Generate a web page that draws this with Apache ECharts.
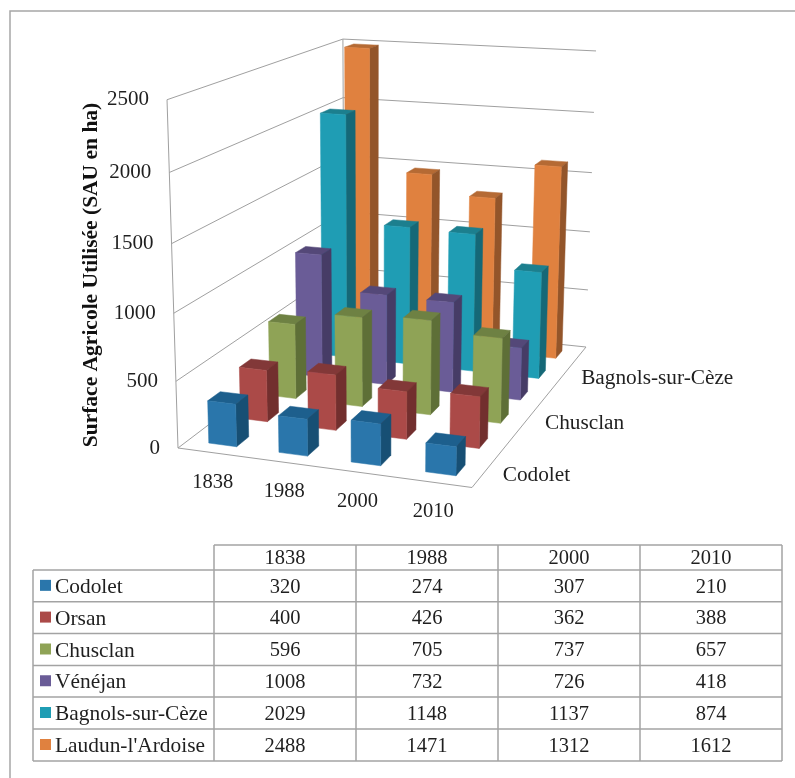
<!DOCTYPE html>
<html><head><meta charset="utf-8">
<style>html,body{margin:0;padding:0;background:#fff}#c{width:795px;height:778px}</style>
<script src="https://cdn.jsdelivr.net/npm/echarts@6/dist/echarts.min.js"></script>
</head><body><div id="c"></div>
<script>
const categories = ['1838','1988','2000','2010'];
const seriesNames = ['Codolet','Orsan','Chusclan','Vénéjan','Bagnols-sur-Cèze',"Laudun-l'Ardoise"];
const codolet = [320,274,307,210];
const orsan = [400,426,362,388];
const chusclan = [596,705,737,657];
const venejan = [1008,732,726,418];
const bagnols = [2029,1148,1137,874];
const laudun = [2488,1471,1312,1612];
const valueTicks = [0,500,1000,1500,2000,2500];
const depthLabels = {0:'Codolet',2:'Chusclan',4:'Bagnols-sur-Cèze'};
const allValues = [codolet,orsan,chusclan,venejan,bagnols,laudun];
const frontColors = ['#2a76ab','#ab4a48','#8fa356','#6a5c97','#1f9db4','#e0813f'];
const sideColors = ['#174f74','#722f2e','#5e6f37','#463c66','#156877','#93552a'];
const topColors = ['#1d5f8d','#823838','#6e8143','#544878','#1c7f8e','#b56a34'];

// Projection of the chart box: u along years, v along depth, z height (all 0..1)
const Q = [[178,448],[472,487.5],[586,347],[344.2,321.8]];
const VP = [373,6634], iz = -0.0533;
const H = (function(){
  const [x0,y0]=Q[0],[x1,y1]=Q[1],[x2,y2]=Q[2],[x3,y3]=Q[3];
  const dx1=x1-x2,dx2=x3-x2,dx3=x0-x1+x2-x3,dy1=y1-y2,dy2=y3-y2,dy3=y0-y1+y2-y3;
  const den=dx1*dy2-dx2*dy1;
  const g=(dx3*dy2-dx2*dy3)/den,h=(dx1*dy3-dx3*dy1)/den;
  return {a:x1-x0+g*x1,b:x3-x0+h*x3,c:x0,d:y1-y0+g*y1,e:y3-y0+h*y3,f:y0,g,h};
})();
function P(u,v,z){
  const w=H.g*u+H.h*v+iz*z+1;
  return [(H.a*u+H.b*v+VP[0]*iz*z+H.c)/w,(H.d*u+H.e*v+VP[1]*iz*z+H.f)/w];
}
const GRID={left:20,top:20,width:700,height:700};
const BAR_U=0.2/4, BAR_V=0.032;

function renderBar(sIdx){
  return function(params,api){
    const pt=api.coord([api.value(0),api.value(1)]);
    const u=(pt[0]-GRID.left)/GRID.width;
    const z=(GRID.top+GRID.height-pt[1])/GRID.height;
    const v=(sIdx+0.49)/6;
    const u0=u-BAR_U,u1=u+BAR_U,v0=v-BAR_V,v1=v+BAR_V;
    const poly=(pts,color)=>({type:'polygon',shape:{points:pts},style:{fill:color,stroke:color,lineWidth:0.5}});
    return {type:'group',children:[
      poly([P(u0,v0,z),P(u1,v0,z),P(u1,v1,z),P(u0,v1,z)],topColors[sIdx]),
      poly([P(u1,v0,0),P(u1,v1,0),P(u1,v1,z),P(u1,v0,z)],sideColors[sIdx]),
      poly([P(u0,v0,0),P(u1,v0,0),P(u1,v0,z),P(u0,v0,z)],frontColors[sIdx])
    ]};
  };
}

const gridColor='#a0a0a0', textColor='#1f1f1f', FONT='"Liberation Serif","Times New Roman",serif';
function boxFrame(){
  const lines=[];
  valueTicks.forEach(t=>{
    const z=t/2500;
    lines.push([P(0,0,z),P(0,1,z)],[P(0,1,z),P(1,1,z)]);
  });
  lines.push([P(0,0,0),P(0,0,1)],[P(0,1,0),P(0,1,1)],[P(0,0,0),P(1,0,0)],[P(1,0,0),P(1,1,0)]);
  return lines;
}
const graphics=[];
graphics.push({type:'polyline',shape:{points:[[10,778],[10,11],[795,11]]},style:{fill:'none',stroke:'#a6a6a6',lineWidth:1.5},z:-1});
boxFrame().forEach(l=>graphics.push({type:'line',shape:{x1:l[0][0],y1:l[0][1],x2:l[1][0],y2:l[1][1]},style:{stroke:gridColor,lineWidth:1},z:0,silent:true}));
function txt(x,y,s,align,size){return {type:'text',x,y,style:{text:s,font:(size||20.5)+'px '+FONT,fill:textColor,align:align||'center',verticalAlign:'middle'},z:5};}
valueTicks.forEach(t=>{const p=P(0,0,t/2500);graphics.push(txt(p[0]-18,p[1],String(t),'right',21));});
categories.forEach((c,i)=>{const p=P((i+0.5)/4,0,0);graphics.push(txt(p[0],p[1]+29.5,c,'center',20.5));});
Object.keys(depthLabels).forEach(k=>{const i=+k;const p=P(1,(i+0.5)/6,0);graphics.push(txt(p[0]+19,p[1]+2,depthLabels[k],'left',21.3));});
graphics.push({type:'text',x:91,y:275,rotation:Math.PI/2,style:{text:'Surface Agricole Utilisée (SAU en ha)',font:'bold 21.5px '+FONT,fill:'#111',align:'center',verticalAlign:'middle'},z:5});

// data table
const colX=[214,356,498,640,782], rowY=[545,570,601.7,633.5,665.5,697,729,761], tblLeft=33;
const tableLine='#a3a3a3';
function ln(x1,y1,x2,y2){graphics.push({type:'line',shape:{x1,y1,x2,y2},style:{stroke:tableLine,lineWidth:1.5},z:4});}
rowY.forEach((y,i)=>ln(i===0?colX[0]:tblLeft,y,colX[4],y));
colX.forEach(x=>ln(x,rowY[0],x,rowY[7]));
ln(tblLeft,rowY[1],tblLeft,rowY[7]);
categories.forEach((c,i)=>graphics.push(txt((colX[i]+colX[i+1])/2,(rowY[0]+rowY[1])/2+1.5,c)));
seriesNames.forEach((n,r)=>{
  const cy=(rowY[r+1]+rowY[r+2])/2;
  graphics.push({type:'rect',shape:{x:40,y:cy-6,width:11,height:11},style:{fill:frontColors[r]},z:5});
  graphics.push(txt(55,cy+1.5,n,'left',21.4));
  allValues[r].forEach((val,i)=>graphics.push(txt((colX[i]+colX[i+1])/2,cy+1.5,String(val))));
});

const chart=echarts.init(document.getElementById('c'),null,{renderer:'canvas'});
const seriesList=[];
for(let s=5;s>=0;s--){
  seriesList.push({name:seriesNames[s],type:'custom',coordinateSystem:'cartesian2d',z:2,
    encode:{x:0,y:1},clip:false,silent:true,
    renderItem:renderBar(s),
    data:categories.map((c,i)=>[i,allValues[s][i]])});
}
chart.setOption({
  animation:false,backgroundColor:'#fff',
  grid:Object.assign({},GRID,{show:false}),
  xAxis:{type:'category',data:categories,show:false},
  yAxis:{type:'value',min:0,max:2500,interval:500,show:false},
  graphic:{elements:graphics},
  series:seriesList
});
</script></body></html>
